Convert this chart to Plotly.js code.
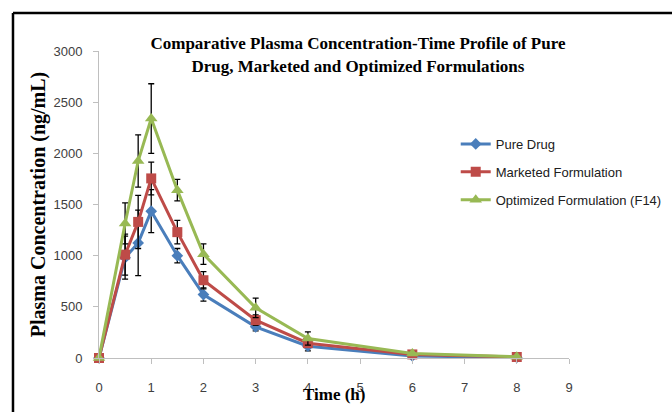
<!DOCTYPE html>
<html>
<head>
<meta charset="utf-8">
<script src="https://cdn.plot.ly/plotly-3.0.1.min.js"></script>
<style>
html,body{margin:0;padding:0;background:#fff;}
#chart{width:672px;height:412px;}
</style>
</head>
<body>
<div id="chart"></div>
<script>
// Data
var timeHours = [0, 0.5, 0.75, 1, 1.5, 2, 3, 4, 6, 8];
var pureDrug = [0, 980, 1125, 1435, 1000, 620, 305, 115, 20, 5];
var pureDrugErr = [0, 210, 320, 210, 70, 65, 40, 45, 5, 2];
var marketed = [0, 1010, 1330, 1755, 1230, 760, 370, 145, 35, 10];
var marketedErr = [0, 200, 260, 160, 115, 85, 50, 40, 8, 3];
var optimized = [0, 1315, 1925, 2340, 1640, 1015, 490, 190, 45, 12];
var optimizedErr = [0, 200, 255, 340, 105, 100, 95, 65, 10, 3];
var seriesNames = ["Pure Drug", "Marketed Formulation", "Optimized Formulation (F14)"];
var xTicks = [0, 1, 2, 3, 4, 5, 6, 7, 8, 9];
var yTicks = [0, 500, 1000, 1500, 2000, 2500, 3000];

function series(name, y, err, color, symbol, size, group) {
  return {
    x: timeHours, y: y, name: name, type: 'scatter', mode: 'lines+markers',
    legendgroup: group, cliponaxis: false,
    line: {color: color, width: 3},
    marker: {color: color, symbol: symbol, size: size},
    error_y: {type: 'data', array: err, visible: true, color: '#000000', thickness: 1.3, width: 3}
  };
}

var traces = [
  series(seriesNames[0], pureDrug, pureDrugErr, '#4A7EBB', 'diamond', 9, 'a'),
  series(seriesNames[1], marketed, marketedErr, '#BE4B48', 'square', 10, 'b'),
  series(seriesNames[2], optimized, optimizedErr, '#98B954', 'triangle-up', 11, 'c')
];

var tickFont = {family: 'Liberation Sans Narrow, Liberation Sans, sans-serif', size: 13, color: '#404040'};

var layout = {
  width: 672, height: 412,
  margin: {l: 99, r: 103, t: 51, b: 54, pad: 0, autoexpand: false},
  paper_bgcolor: '#ffffff', plot_bgcolor: '#ffffff',
  title: {
    text: 'Comparative Plasma Concentration-Time Profile of Pure<br>Drug, Marketed and Optimized Formulations',
    font: {family: 'Liberation Serif, serif', size: 17, color: '#000', weight: 'bold'},
    x: 0.551, xref: 'paper', xanchor: 'center',
    y: 0.88, yref: 'container', yanchor: 'top'
  },
  xaxis: {
    range: [0, 9], tickvals: xTicks, ticktext: xTicks.map(String),
    showgrid: false, zeroline: false, showline: true, linecolor: '#BFBFBF', linewidth: 1,
    ticks: 'outside', ticklen: 5, tickcolor: '#BFBFBF', ticklabelstandoff: 12,
    tickfont: tickFont
  },
  yaxis: {
    range: [0, 3000], tickvals: yTicks, ticktext: yTicks.map(String),
    showgrid: false, zeroline: false, showline: true, linecolor: '#BFBFBF', linewidth: 1,
    ticks: 'outside', ticklen: 5, tickcolor: '#BFBFBF', ticklabelstandoff: 8,
    tickfont: tickFont,
    title: {text: 'Plasma Concentration (ng/mL)', standoff: 2,
      font: {family: 'Liberation Serif, serif', size: 20, color: '#000', weight: 'bold'}}
  },
  annotations: [
    {text: 'Time (h)', xref: 'paper', yref: 'paper', x: 0.5, y: -0.12,
     xanchor: 'center', yanchor: 'middle', showarrow: false,
     font: {family: 'Liberation Serif, serif', size: 17, color: '#000', weight: 'bold'}}
  ],
  showlegend: true,
  legend: {
    x: 0.759, xanchor: 'left', y: 0.746, yanchor: 'top',
    traceorder: 'grouped', tracegroupgap: 8,
    bgcolor: 'rgba(0,0,0,0)',
    font: {family: 'Liberation Sans Narrow, Liberation Sans, sans-serif', size: 13, color: '#202020'}
  },
  shapes: [
    {type: 'line', xref: 'paper', yref: 'paper', x0: -0.183, x1: 1.25, y0: 1.1238, y1: 1.1238,
     line: {color: '#000', width: 2.5}},
    {type: 'line', xref: 'paper', yref: 'paper', x0: -0.183, x1: -0.183, y0: 1.1238, y1: -0.25,
     line: {color: '#000', width: 2.5}}
  ]
};

Plotly.newPlot('chart', traces, layout, {displayModeBar: false, staticPlot: true});
</script>
</body>
</html>
